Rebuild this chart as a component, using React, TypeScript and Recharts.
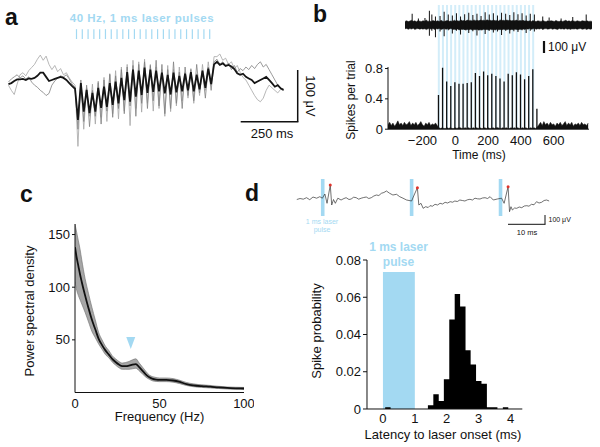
import React from 'react';
import { ComposedChart, Line, Area, Bar, XAxis, YAxis, ReferenceLine, ReferenceArea, ReferenceDot } from 'recharts';

const FONT = '"Liberation Sans", Arial, Helvetica, sans-serif';
const BLUE = '#a3d9f2';
const PALE_BLUE = '#d3edf9';
const INK = '#111';

// ---- panel a: LFP, samples every 12.5 ms starting at 6.25 ms (uV)
const lfpMean = [
  -8, -6, -2, 1, 1, 2, 0, 3, 2, 4, 8, 14, 14, 6, -2, 0, 2, 4, 6, 4, 0, -6, -12, -17,
  -77, -6, -61, -19, -64, -25, -61, -15, -54, -13, -52, -6, -48, -3, -45, 4,
  -39, 15, -42, 20, -32, 18, -29, 24, -25, 20, -23, 18, -22, 14, -26, 10,
  -28, 14, -24, 8, -22, 12, -20, 15, -22, 10, -18, 18, -15, 22, -8, 30,
  35, 29, 32, 27, 29, 26, 21, 13, 10, 12, 6, 3, 0, -6, -3, 0, 3, 6, 0, -6, -13, -10, -16, -19,
];
const lfpTrial1 = [
  -10, -20, -28, -8, 10, 14, 8, 18, 24, 30, 40, 48, 38, 46, 30, 20, 28, 16, 22, 10, 14, 4, -4, -10,
  -128, -5, -95, -15, -70, -8, -85, -2, -72, 5, -80, 10, -65, 18, -75, 25,
  -60, 30, -88, 38, -55, 35, -62, 40, -45, 30, -60, 25, -55, 20, -70, 28,
  -61, 20, -50, 25, -40, 15, -35, 22, -45, 12, -30, 30, -20, 35, -10, 45,
  45, 50, 38, 42, 30, 35, 22, 28, 15, 5, 0, -10, -20, -30, -38, -42, -35, -20, -10, -15, -20, -25, -18, -20,
];
const lfpTrial2 = [
  -4, 2, 6, 10, 4, 8, 2, 6, -4, -10, -14, -20, -24, -30, -26, -10, -2, 4, 8, 6, 10, 2, -8, -14,
  -95, 0, -80, -10, -90, -20, -70, -5, -85, 0, -60, 12, -72, 8, -55, 20,
  -65, 25, -50, 28, -70, 30, -45, 35, -55, 28, -40, 38, -50, 30, -65, 20,
  -55, 35, -45, 15, -55, 25, -30, 20, -40, 30, -25, 18, -35, 25, -20, 35,
  40, 30, 35, 28, 32, 20, 28, 15, 22, 18, 25, 20, 28, 22, 30, 35, 25, 30, 20, 10, 0, -10, -15, -20,
];
const lfpPulses = [300, 325, 350, 375, 400, 425, 450, 475, 500, 525, 550, 575, 600, 625, 650, 675, 700, 725, 750, 775, 800, 825, 850, 875];

// ---- panel b
const stimPulses = [-100, -75, -50, -25, 0, 25, 50, 75, 100, 125, 150, 175, 200, 225, 250, 275, 300, 325, 350, 375, 400, 425, 450, 475];
const psthPeakTimes = [-100, -75, -50, -25, 0, 25, 50, 75, 100, 125, 150, 175, 200, 225, 250, 275, 300, 325, 350, 375, 400, 425, 450, 475, 500];
const psthPeaks = [0.45, 0.81, 0.63, 0.57, 0.62, 0.6, 0.6, 0.61, 0.62, 0.74, 0.7, 0.76, 0.71, 0.73, 0.7, 0.67, 0.63, 0.73, 0.71, 0.75, 0.72, 0.66, 0.7, 0.79, 0.27];
// background rate, 10 ms steps from -410 ms
const psthBase = [
  0.06, 0.09, 0.05, 0.08, 0.04, 0.07, 0.11, 0.06, 0.08, 0.05, 0.09, 0.06, 0.07, 0.1, 0.05, 0.08, 0.06, 0.09, 0.05, 0.07, 0.1, 0.06, 0.04, 0.08, 0.06, 0.09, 0.05, 0.07, 0.06, 0.08, 0.05,
  0.02, 0.01, 0.02, 0.01, 0.01, 0.02, 0.01, 0.02, 0.01, 0.01, 0.02, 0.01, 0.02, 0.02, 0.01, 0.01, 0.02, 0.01, 0.02, 0.01,
  0.01, 0.02, 0.01, 0.02, 0.01, 0.02, 0.01, 0.01, 0.02, 0.01, 0.02, 0.01, 0.01, 0.02, 0.01, 0.02, 0.02, 0.01, 0.01, 0.02,
  0.01, 0.02, 0.01, 0.01, 0.02, 0.01, 0.02, 0.01, 0.02, 0.01, 0.01, 0.02, 0.01, 0.02, 0.01, 0.01, 0.02, 0.01, 0.02, 0.01,
  0.03, 0.06, 0.09, 0.05, 0.1, 0.06, 0.08, 0.05, 0.09, 0.06, 0.07, 0.04, 0.08, 0.06, 0.09, 0.05,
  0.07, 0.1, 0.05, 0.08, 0.06, 0.09, 0.04, 0.07, 0.06, 0.08, 0.05, 0.09, 0.06, 0.07, 0.05, 0.08,
];
// raw trace envelope, 10 ms steps from -310 ms (uV)
const rawHi = [
  38, 45, 36, 42, 50, 39, 44, 35, 47, 41, 37, 46, 40, 52, 38, 43, 36, 48, 42, 39,
  45, 37, 50, 41, 36, 44, 47, 39, 43, 38, 51, 42, 46, 40, 55, 44, 48, 42, 52, 45,
  49, 43, 54, 46, 50, 44, 53, 47, 51, 45, 55, 48, 50, 44, 52, 46, 49, 43, 54, 47,
  50, 45, 53, 48, 51, 44, 49, 46, 52, 43, 48, 45, 50, 42, 46, 39, 44, 37, 47, 40,
  36, 45, 41, 38, 48, 40, 35, 44, 39, 46, 42, 37, 49, 40, 36, 45, 38, 43, 50, 39,
  44, 36, 47, 41, 38, 45, 40, 37, 46, 42, 39, 44, 37, 41, 38,
];
const rawLo = [
  -40, -36, -46, -38, -43, -35, -48, -41, -37, -45, -39, -44, -36, -49, -41, -38, -45, -37, -47, -40,
  -43, -36, -48, -42, -38, -46, -40, -44, -37, -49, -45, -50, -43, -52, -46, -48, -44, -54, -47, -51,
  -45, -53, -48, -50, -44, -55, -49, -52, -46, -50, -47, -54, -45, -51, -48, -53, -44, -50, -47, -52,
  -46, -49, -51, -45, -53, -47, -50, -44, -48, -52, -45, -47, -42, -48, -40, -44, -38, -46, -41, -37,
  -45, -39, -43, -36, -47, -40, -38, -44, -41, -37, -46, -39, -42, -48, -37, -43, -40, -45, -38, -44,
  -41, -47, -36, -43, -39, -46, -40, -38, -45, -42, -37, -44, -40, -46, -39,
];
const rawSpikeTimes = [
  -268, -230, -190, -163, -148, -126,
  -98, -73, -48, -23, 2, 27, 52, 77, 102, 127, 152, 177, 202, 227, 252, 277, 302, 327, 352, 377, 402, 427, 452, 477,
  528, 567, 640, 711, 793,
];
const rawSpikeUp = [
  120, 70, 75, 150, 110, 90,
  95, 140, 110, 100, 125, 90, 115, 130, 105, 120, 95, 135, 110, 125, 100, 130, 120, 105, 135, 115, 125, 100, 120, 110,
  90, 80, 70, 85, 110,
];
const rawSpikeDown = [
  -35, -40, -45, -115, -60, -130,
  -70, -120, -55, -90, -60, -100, -50, -85, -65, -110, -55, -95, -60, -80, -70, -105, -60, -90, -65, -75, -55, -85, -60, -70,
  -45, -40, -40, -45, -50,
];

// ---- panel c: power spectrum
const psdFreq = [0, 1, 2, 3, 4, 6, 8, 10, 12, 14, 16, 18, 20, 22, 24, 26, 28, 30, 32, 34, 36, 38, 40, 42, 44, 46, 48, 50, 54, 58, 62, 66, 70, 75, 80, 85, 90, 95, 100];
const psdMean = [138, 128, 120, 112, 105, 92, 80, 69, 60, 51, 45, 40, 36, 32, 29, 26.5, 25, 25, 25.5, 26.5, 27, 24, 20.5, 17, 14.5, 13, 12.3, 12, 12, 11.4, 10, 8, 6.8, 6, 5.5, 4.8, 4.3, 4, 3.8];
const psdLo = [105, 97, 92, 88, 84, 76, 67, 58, 52, 46, 41, 36, 33, 29, 26, 23.5, 22, 22, 22, 22.5, 23, 20.5, 17.5, 14.5, 12.5, 11, 10.5, 10.3, 10.3, 9.8, 8.4, 6.6, 5.5, 4.8, 4.3, 3.8, 3.3, 3, 2.8];
const psdHi = [160, 152, 144, 136, 126, 108, 94, 81, 69, 57, 50, 44, 40, 35, 32, 29.5, 28, 28.5, 29.5, 31, 32, 28, 24, 20, 16.5, 15, 14.2, 13.8, 13.8, 13.2, 11.6, 9.5, 8.2, 7.3, 6.7, 5.9, 5.3, 5, 4.8];

// ---- panel d
const dTraceTimes = [
  0.5, 1.4, 2.3, 3.2, 4.1, 5, 6, 6.9, 7.6, 8.3, 8.9, 9.8, 10.2, 10.7, 11.2, 11.9, 12.8, 13.6, 14.2, 15,
  15.6, 16.3, 17, 17.7, 18.4, 19.1, 19.8, 20.5, 21.2, 21.9, 22.6, 23.3, 24, 24.7, 25.4, 26.3, 27.2, 28.2, 29.1, 30,
  31, 32.4, 33.1, 34, 34.4, 35, 35.6, 36.3, 37, 37.5, 38.2, 38.9, 39.6, 40.3, 41, 41.7, 42.4, 43.1, 43.8, 44.4,
  45.1, 45.8, 46.5, 47.2, 47.9, 48.6, 49.3, 50, 50.7, 51.4, 52.1, 52.8, 53.5, 54.2, 55.1, 56.2, 57.4, 58.1, 59.2, 59.6,
  60, 60.4, 61, 61.6, 62.3, 63, 63.7, 64.4, 65, 65.7, 66.4, 67.1, 67.8, 68.5, 69.2, 69.9, 70.6,
];
const dTraceUv = [
  5, 15, 8, 23, 3, 30, 18, 33, 18, 60, -33, 150, -50, 5, -33, 18, 0, 15, 23, 5,
  10, 28, 23, 8, 18, 25, 30, 15, 23, 40, 50, 45, 67, 75, 90, 67, 50, 57, 33, 18,
  0, -10, 50, 123, -50, -33, -83, -67, -75, -57, -62, -43, -50, -33, -40, -23, -30, -17, -22, -10,
  -15, 0, -5, -10, 2, 7, 0, 18, 12, 10, 20, 23, 15, 33, 0, 10, 18, -33, 133, -117,
  -67, -100, -80, -83, -70, -77, -60, -57, -62, -43, -48, -17, -30, -23, -5, 0, -10,
];
const dPulses = [7.2, 31.9, 56.6];
const dSpikeTimes = [9.8, 34, 59.2];
const dSpikeUv = [150, 123, 133];
const latencyEdges = [-0.5, 0.07, 0.24, 1.41, 1.58, 1.75, 1.91, 2.08, 2.25, 2.42, 2.59, 2.75, 2.92, 3.09, 3.26, 3.42, 3.59, 3.76, 3.93, 4.37];
const latencyProb = [0, 0.001, 0, 0.002, 0.0079, 0.0043, 0.016, 0.048, 0.0617, 0.055, 0.0316, 0.0239, 0.015, 0.0136, 0.001, 0.001, 0, 0.001, 0, 0];

const at = (left: number, top: number, width: number, height: number): React.CSSProperties => ({
  position: 'absolute', left, top, width, height,
});
const noMargin = { top: 0, right: 0, bottom: 0, left: 0 };
const tickStyle = { fill: INK, fontSize: 13, fontFamily: FONT };
const axisLine = { stroke: INK, strokeWidth: 1 };
const minus = (v: number) => String(v).replace('-', '\u2212');

function PanelA() {
  const data = lfpMean.map((v, i) => ({ t: 6.25 + i * 12.5, mean: v, tr1: lfpTrial1[i], tr2: lfpTrial2[i] }));
  return (
    <div style={at(7, 25, 278, 125)}>
      <ComposedChart width={278} height={125} data={data} margin={noMargin}>
        <XAxis type="number" dataKey="t" domain={[0, 1200]} hide allowDataOverflow />
        <YAxis type="number" domain={[-135, 106]} hide allowDataOverflow />
        {lfpPulses.map((t) => (
          <ReferenceLine key={t} segment={[{ x: t, y: 79 }, { x: t, y: 98 }]} stroke={BLUE} strokeWidth={1.2} />
        ))}
        <Line dataKey="tr1" stroke="#a4a4a4" strokeWidth={0.8} dot={false} isAnimationActive={false} />
        <Line dataKey="tr2" stroke="#808080" strokeWidth={0.8} dot={false} isAnimationActive={false} />
        <Line dataKey="mean" stroke="#151515" strokeWidth={1.8} dot={false} isAnimationActive={false} />
      </ComposedChart>
    </div>
  );
}

function PanelB() {
  const bands = stimPulses.map((t) => ({ t }));
  const env = rawHi.map((hi, i) => ({ t: -310 + i * 10, env: [rawLo[i], hi] }));
  const spikes = rawSpikeTimes.map((t, i) => ({ t, spike: [rawSpikeDown[i], rawSpikeUp[i]] }));
  const base = psthBase.map((v, i) => ({ t: -410 + i * 10, base: v }));
  const peaks = psthPeakTimes.map((t, i) => ({ t, peak: psthPeaks[i] }));
  return (
    <>
      <div style={at(388, 5, 201, 124)}>
        <ComposedChart width={201} height={124} data={bands} margin={noMargin}>
          <XAxis type="number" dataKey="t" domain={[-410, 815]} hide allowDataOverflow />
          <YAxis type="number" domain={[0, 1]} hide />
          <Bar dataKey={() => 1} fill={PALE_BLUE} barSize={2} isAnimationActive={false} />
        </ComposedChart>
      </div>
      <div style={at(405, 0, 187, 50)}>
        <ComposedChart width={187} height={50} data={env} margin={noMargin}>
          <XAxis type="number" dataKey="t" domain={[-310, 830]} hide allowDataOverflow />
          <YAxis type="number" domain={[-265, 265]} hide allowDataOverflow />
          <Area dataKey="env" type="linear" fill="#111" fillOpacity={1} stroke="#111" strokeWidth={0.5} isAnimationActive={false} />
        </ComposedChart>
      </div>
      <div style={at(405, 0, 187, 50)}>
        <ComposedChart width={187} height={50} data={spikes} margin={noMargin}>
          <XAxis type="number" dataKey="t" domain={[-310, 830]} hide allowDataOverflow />
          <YAxis type="number" domain={[-265, 265]} hide allowDataOverflow />
          <Bar dataKey="spike" fill="#111" barSize={1} isAnimationActive={false} />
        </ComposedChart>
      </div>
      <div style={at(358, 61.8, 239, 87.2)}>
        <ComposedChart width={239} height={87.2} data={base} margin={{ top: 5, right: 8, bottom: 0, left: 0 }}>
          <XAxis type="number" dataKey="t" domain={[-410, 815]} ticks={[-200, 0, 200, 400, 600]} interval={0}
            tickFormatter={minus} tick={tickStyle} tickLine={false} tickSize={5} tickMargin={2} height={20}
            axisLine={axisLine} allowDataOverflow />
          <YAxis type="number" domain={[0, 0.82]} ticks={[0, 0.4, 0.8]} interval={0} tick={tickStyle}
            tickSize={3} tickMargin={2} width={30} axisLine={axisLine} tickLine={axisLine} allowDataOverflow />
          <Area dataKey="base" type="linear" fill="#111" fillOpacity={1} stroke="#111" strokeWidth={0.5} isAnimationActive={false} />
        </ComposedChart>
      </div>
      <div style={at(388, 66.8, 201, 62.2)}>
        <ComposedChart width={201} height={62.2} data={peaks} margin={noMargin}>
          <XAxis type="number" dataKey="t" domain={[-410, 815]} hide allowDataOverflow />
          <YAxis type="number" domain={[0, 0.82]} hide allowDataOverflow />
          <Bar dataKey="peak" fill="#111" barSize={1.3} isAnimationActive={false} />
        </ComposedChart>
      </div>
    </>
  );
}

function PanelC() {
  const data = psdFreq.map((f, i) => ({ f, mean: psdMean[i], band: [psdLo[i], psdHi[i]] }));
  const arrow = (p: any) => (
    <path d={`M${p.cx - 4.5},${p.cy - 6} L${p.cx + 4.5},${p.cy - 6} L${p.cx},${p.cy + 6} Z`} fill={BLUE} />
  );
  return (
    <div style={at(35, 218.5, 219, 203.5)}>
      <ComposedChart width={219} height={203.5} data={data} margin={{ top: 5, right: 10, bottom: 0, left: 0 }}>
        <XAxis type="number" dataKey="f" domain={[0, 100]} ticks={[0, 50, 100]} interval={0} tick={tickStyle}
          tickLine={false} tickSize={4} tickMargin={2} height={30} axisLine={axisLine} allowDataOverflow />
        <YAxis type="number" domain={[0, 160]} ticks={[50, 100, 150]} interval={0} tick={tickStyle}
          tickSize={3} tickMargin={2} width={40} axisLine={axisLine} tickLine={axisLine} allowDataOverflow />
        <Area dataKey="band" type="monotone" fill="#a6a6a6" fillOpacity={1} stroke="#6e6e6e" strokeWidth={0.6} isAnimationActive={false} />
        <Line dataKey="mean" type="monotone" stroke="#111" strokeWidth={1.8} dot={false} isAnimationActive={false} />
        <ReferenceDot x={33} y={47} shape={arrow} />
      </ComposedChart>
    </div>
  );
}

function PanelD() {
  const trace = dTraceTimes.map((t, i) => ({ t, uv: dTraceUv[i] }));
  const hist = latencyEdges.map((x, i) => ({ x, p: latencyProb[i] }));
  return (
    <>
      <div style={at(295, 179, 257, 37)}>
        <ComposedChart width={257} height={37} data={trace} margin={noMargin}>
          <XAxis type="number" dataKey="t" domain={[0, 71.4]} hide allowDataOverflow />
          <YAxis type="number" domain={[-160, 210]} hide allowDataOverflow />
          {dPulses.map((p) => (
            <ReferenceArea key={p} x1={p} x2={p + 1} fill={BLUE} fillOpacity={1} stroke="none" />
          ))}
          <Line dataKey="uv" stroke="#333" strokeWidth={0.7} dot={false} isAnimationActive={false} />
          {dSpikeTimes.map((t, i) => (
            <ReferenceDot key={t} x={t} y={dSpikeUv[i]} r={1.5} fill="#e0332b" stroke="none" />
          ))}
        </ComposedChart>
      </div>
      <div style={at(326.7, 254, 205.3, 180)}>
        <ComposedChart width={205.3} height={180} data={hist} margin={{ top: 6, right: 10, bottom: 0, left: 0 }}>
          <XAxis type="number" dataKey="x" domain={[-0.5, 4.37]} ticks={[0, 1, 2, 3, 4]} interval={0} tick={tickStyle}
            tickLine={false} tickSize={3} tickMargin={2} height={25} axisLine={axisLine} allowDataOverflow />
          <YAxis type="number" domain={[0, 0.08]} ticks={[0, 0.02, 0.04, 0.06, 0.08]} interval={0} tick={tickStyle}
            tickSize={4} tickMargin={2} width={40} axisLine={axisLine} tickLine={axisLine} allowDataOverflow />
          <ReferenceArea x1={0} x2={1} y1={0} y2={0.0735} fill={BLUE} fillOpacity={1} stroke="none" />
          <Area dataKey="p" type="stepAfter" fill="#000" fillOpacity={1} stroke="none" isAnimationActive={false} />
        </ComposedChart>
      </div>
    </>
  );
}

function Labels() {
  const t = { fontFamily: FONT, fill: INK } as const;
  return (
    <svg width={600} height={447} style={{ position: 'absolute', left: 0, top: 0, pointerEvents: 'none' }}>
      <text x={5} y={25} fontSize={23} fontWeight="bold" {...t}>a</text>
      <text x={313} y={22} fontSize={23} fontWeight="bold" {...t}>b</text>
      <text x={20} y={202} fontSize={23} fontWeight="bold" {...t}>c</text>
      <text x={245} y={201} fontSize={23} fontWeight="bold" {...t}>d</text>

      <text x={142} y={21.5} fontSize={11.5} fontWeight="bold" letterSpacing={0.5} textAnchor="middle" fontFamily={FONT} fill={BLUE}>
        40 Hz, 1 ms laser pulses
      </text>
      <line x1={297.7} y1={70} x2={297.7} y2={121.7} stroke={INK} strokeWidth={1.5} />
      <line x1={240.7} y1={121.7} x2={298.4} y2={121.7} stroke={INK} strokeWidth={1.5} />
      <text transform="translate(306,96) rotate(90)" fontSize={13} textAnchor="middle" {...t}>100 μV</text>
      <text x={272} y={138} fontSize={13} textAnchor="middle" {...t}>250 ms</text>

      <line x1={544} y1={41} x2={544} y2={53} stroke={INK} strokeWidth={2.2} />
      <text x={548} y={50.5} fontSize={12} {...t}>100 μV</text>
      <text transform="translate(354.5,100) rotate(-90)" fontSize={12} textAnchor="middle" {...t}>Spikes per trial</text>
      <text x={479} y={159} fontSize={12} textAnchor="middle" {...t}>Time (ms)</text>

      <text transform="translate(34,311) rotate(-90)" fontSize={13} textAnchor="middle" {...t}>Power spectral density</text>
      <text x={159.5} y={421} fontSize={13} textAnchor="middle" {...t}>Frequency (Hz)</text>

      <text x={322} y={223.5} fontSize={7} textAnchor="middle" fontFamily={FONT} fill={BLUE}>1 ms laser</text>
      <text x={322} y={232} fontSize={7} textAnchor="middle" fontFamily={FONT} fill={BLUE}>pulse</text>
      <line x1={508} y1={224.3} x2={545.5} y2={224.3} stroke={INK} strokeWidth={1} />
      <line x1={545} y1={215} x2={545} y2={224.3} stroke={INK} strokeWidth={1} />
      <text x={548.5} y={222} fontSize={7} {...t}>100 μV</text>
      <text x={527} y={234.5} fontSize={7.5} textAnchor="middle" {...t}>10 ms</text>

      <text x={398.5} y={251} fontSize={12} fontWeight="bold" textAnchor="middle" fontFamily={FONT} fill={BLUE}>1 ms laser</text>
      <text x={398.5} y={266} fontSize={12} fontWeight="bold" textAnchor="middle" fontFamily={FONT} fill={BLUE}>pulse</text>
      <text transform="translate(321,331) rotate(-90)" fontSize={13} textAnchor="middle" {...t}>Spike probability</text>
      <text x={443} y={439} fontSize={13} textAnchor="middle" {...t}>Latency to laser onset (ms)</text>
    </svg>
  );
}

export default function App() {
  return (
    <div style={{ position: 'absolute', left: 0, top: 0, width: 600, height: 447, background: '#fff', overflow: 'hidden', fontFamily: FONT }}>
      <PanelA />
      <PanelB />
      <PanelC />
      <PanelD />
      <Labels />
    </div>
  );
}
